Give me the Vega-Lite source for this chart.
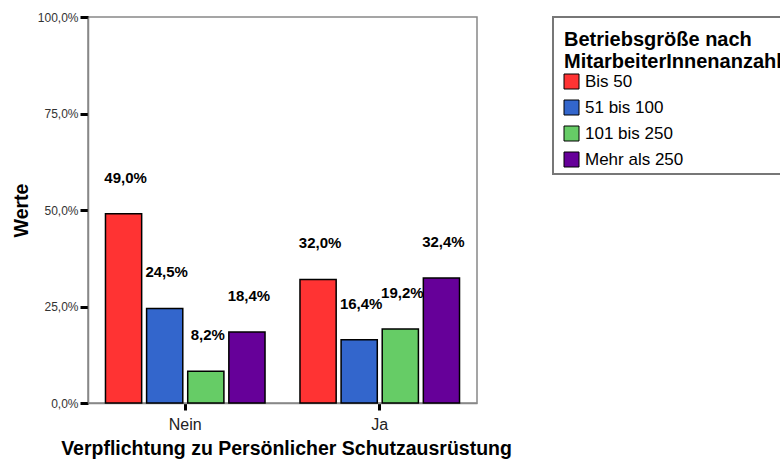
{
  "$schema": "https://vega.github.io/schema/vega-lite/v6.json",
  "autosize": {"type": "none"},
  "padding": {"left": 88, "top": 17, "right": 303, "bottom": 59},
  "width": 389,
  "height": 386,
  "background": "white",
  "data": {"values": [
    {"verpflichtung": "Nein", "groesse": "Bis 50", "anteil": 0.490},
    {"verpflichtung": "Nein", "groesse": "51 bis 100", "anteil": 0.245},
    {"verpflichtung": "Nein", "groesse": "101 bis 250", "anteil": 0.082},
    {"verpflichtung": "Nein", "groesse": "Mehr als 250", "anteil": 0.184},
    {"verpflichtung": "Ja", "groesse": "Bis 50", "anteil": 0.320},
    {"verpflichtung": "Ja", "groesse": "51 bis 100", "anteil": 0.164},
    {"verpflichtung": "Ja", "groesse": "101 bis 250", "anteil": 0.192},
    {"verpflichtung": "Ja", "groesse": "Mehr als 250", "anteil": 0.324}
  ]},
  "encoding": {
    "x": {
      "field": "verpflichtung", "type": "nominal", "sort": ["Nein", "Ja"],
      "scale": {"paddingInner": 0, "paddingOuter": 0},
      "axis": {
        "title": "Verpflichtung zu Persönlicher Schutzausrüstung",
        "titleFontSize": 19.5, "titleFontWeight": "bold", "titleColor": "black",
        "titleX": 198, "titleY": 51, "titleAlign": "center", "titleBaseline": "alphabetic",
        "labelAngle": 0, "labelFontSize": 16, "labelColor": "#222", "labelPadding": 6,
        "tickColor": "black", "tickWidth": 3, "tickSize": 7,
        "domainColor": "#888", "domainWidth": 1.5
      }
    },
    "xOffset": {
      "field": "groesse", "type": "nominal",
      "sort": ["Bis 50", "51 bis 100", "101 bis 250", "Mehr als 250"],
      "scale": {"paddingInner": 0.12, "paddingOuter": 0.425}
    },
    "y": {
      "field": "anteil", "type": "quantitative",
      "scale": {"domain": [0, 1]},
      "axis": {
        "title": "Werte", "titleFontSize": 19.5, "titleFontWeight": "bold", "titleColor": "black",
        "titleX": -61, "titleY": 193, "titleAngle": 270, "titleAlign": "center", "titleBaseline": "alphabetic",
        "values": [0, 0.25, 0.5, 0.75, 1], "format": ".1%",
        "labelFontSize": 12, "labelColor": "#333", "labelPadding": 2,
        "tickColor": "black", "tickWidth": 3, "tickSize": 8,
        "grid": false, "domainColor": "#888", "domainWidth": 1.5
      }
    }
  },
  "layer": [
    {
      "mark": {"type": "bar", "stroke": "black", "strokeWidth": 1.5},
      "encoding": {
        "color": {
          "field": "groesse", "type": "nominal",
          "sort": ["Bis 50", "51 bis 100", "101 bis 250", "Mehr als 250"],
          "scale": {
            "domain": ["Bis 50", "51 bis 100", "101 bis 250", "Mehr als 250"],
            "range": ["#ff3333", "#3366cc", "#66cc66", "#660099"]
          },
          "legend": {
            "title": ["Betriebsgröße nach", "MitarbeiterInnenanzahl"],
            "orient": "none", "legendX": 465, "legendY": 0,
            "titleFontSize": 20, "titleFontWeight": "bold", "titleColor": "black",
            "titleLineHeight": 22, "titleLimit": 500, "titlePadding": 9,
            "labelFontSize": 17, "labelColor": "black", "labelLimit": 400,
            "symbolType": "square", "symbolSize": 225,
            "symbolStrokeColor": "black", "symbolStrokeWidth": 1, "symbolOpacity": 1,
            "symbolOffset": 5,
            "labelOffset": 5, "rowPadding": 7,
            "padding": 5, "strokeColor": "#777", "fillColor": "white",
            "encode": {
              "legend": {"update": {"strokeWidth": {"value": 2}}},
              "title": {"update": {"dy": {"value": 8}, "dx": {"value": 6}}}
            }
          }
        }
      }
    },
    {
      "mark": {"type": "text", "fontSize": 15, "fontWeight": "bold", "color": "black", "baseline": "middle", "dy": -36, "dx": 2},
      "encoding": {
        "text": {"field": "anteil", "type": "quantitative", "format": ".1%"}
      }
    }
  ],
  "config": {
    "font": "Liberation Sans",
    "view": {"stroke": "#888", "strokeWidth": 1.5},
    "locale": {"number": {"decimal": ",", "thousands": ".", "grouping": [3], "currency": ["", " €"]}}
  }
}
